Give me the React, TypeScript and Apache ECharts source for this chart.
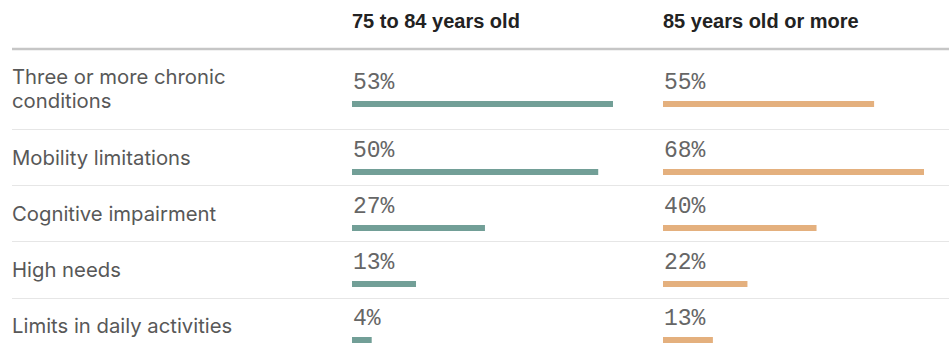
import React, { useEffect, useRef } from "react";
import * as echarts from "echarts";

const categories = [
  "Three or more chronic conditions",
  "Mobility limitations",
  "Cognitive impairment",
  "High needs",
  "Limits in daily activities",
];
const group75to84 = [53, 50, 27, 13, 4];
const group85plus = [55, 68, 40, 22, 13];
const columnTitles = ["75 to 84 years old", "85 years old or more"];

// layout (pixels)
const W = 952;
const H = 343;
const colX = [352, 663];
const barLen = 261;
const barW = 6;
const barCenters = [104, 172, 228, 284, 340];
const labelCenters = [88, 157, 213, 269, 325];
const separators = [129, 185, 241, 298];
const colors = ["#729f97", "#e4b07e"];

function wrap(s: string, n: number): string {
  const words = s.split(" ");
  const lines: string[] = [];
  let cur = "";
  for (const w of words) {
    if (cur && (cur + " " + w).length > n) {
      lines.push(cur);
      cur = w;
    } else cur = cur ? cur + " " + w : w;
  }
  if (cur) lines.push(cur);
  return lines.join("\n");
}

export default function App() {
  const ref = useRef<HTMLDivElement>(null);
  useEffect(() => {
    if (!ref.current) return;
    const chart = echarts.init(ref.current, null, { renderer: "svg" });
    const cols = [group75to84, group85plus];
    const grids: any[] = [];
    const xAxes: any[] = [];
    const yAxes: any[] = [];
    const series: any[] = [];
    cols.forEach((vals, c) => {
      const mx = Math.max(...vals);
      vals.forEach((v, i) => {
        const idx = grids.length;
        grids.push({ left: colX[c], width: barLen, top: barCenters[i] - barW / 2, height: barW });
        xAxes.push({ gridIndex: idx, type: "value", min: 0, max: mx, show: false });
        yAxes.push({ gridIndex: idx, type: "category", data: [categories[i]], show: false });
        series.push({
          type: "bar",
          name: columnTitles[c],
          xAxisIndex: idx,
          yAxisIndex: idx,
          data: [v],
          barWidth: barW,
          itemStyle: { color: colors[c] },
          label: {
            show: true,
            position: [1, -18],
            align: "left",
            verticalAlign: "middle",
            formatter: "{c}%",
            fontFamily: "Liberation Mono",
            fontSize: 23,
            color: "#666",
          },
        });
      });
    });
    const graphics: any[] = [
      {
        type: "line",
        shape: { x1: 12, y1: 49, x2: 949, y2: 49 },
        style: { stroke: "#c6c6c6", lineWidth: 2.5 },
      },
      ...separators.map((y) => ({
        type: "line",
        shape: { x1: 12, y1: y + 0.5, x2: 949, y2: y + 0.5 },
        style: { stroke: "#e6e6e6", lineWidth: 1 },
      })),
      ...columnTitles.map((t, c) => ({
        type: "text",
        x: colX[c],
        y: 21,
        style: {
          text: t,
          fontFamily: "Liberation Sans",
          fontWeight: "bold",
          fontSize: 20,
          fill: "#222",
          verticalAlign: "middle",
          align: "left",
        },
      })),
      ...categories.map((t, i) => ({
        type: "text",
        x: 12,
        y: labelCenters[i],
        style: {
          text: wrap(t, 26),
          fontFamily: "Inter",
          fontSize: 20.3,
          lineHeight: 24,
          fill: "#585858",
          verticalAlign: "middle",
          align: "left",
        },
      })),
    ];
    chart.setOption({
      animation: false,
      backgroundColor: "#fff",
      grid: grids,
      xAxis: xAxes,
      yAxis: yAxes,
      series,
      graphic: graphics,
    });
    return () => chart.dispose();
  }, []);
  return (
    <div
      ref={ref}
      style={{ position: "absolute", left: 0, top: 0, width: W, height: H }}
    />
  );
}
